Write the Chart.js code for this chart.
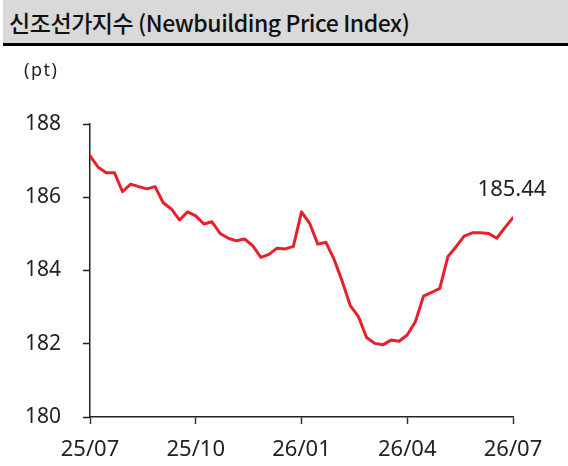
<!DOCTYPE html>
<html><head><meta charset="utf-8">
<script src="https://cdn.jsdelivr.net/npm/chart.js@4"></script>
<style>
html,body{margin:0;padding:0;background:#fff;}
#wrap{position:relative;width:568px;height:466px;overflow:hidden;}
#title{position:absolute;left:3px;top:0;width:565px;height:43px;background:#d9d9d9;border-bottom:3px solid #000;box-sizing:border-box;height:46px;font-family:"Noto Sans CJK KR";font-size:23px;font-weight:500;line-height:45px;padding-left:6px;color:#111;letter-spacing:-0.45px;white-space:nowrap;}
#unit{position:absolute;left:24px;top:57px;font-family:"Noto Sans";font-size:18px;color:#222;letter-spacing:1.5px;}
canvas{position:absolute;left:0;top:0;}
</style></head>
<body>
<div id="wrap">
<canvas id="c" width="568" height="466"></canvas>
<div id="title">신조선가지수 (Newbuilding Price Index)</div>
<div id="unit">(pt)</div>
</div>
<script>
const weeks = [0,1,2,3,4,5,6,7,8,9,10,11,12,13,14,15,16,17,18,19,20,21,22,23,24,25,26,27,28,29,30,31,32,33,34,35,36,37,38,39,40,41,42,43,44,45,46,47,48,49,50,51,52];
const values = [187.13,186.82,186.67,186.67,186.15,186.36,186.29,186.23,186.29,185.85,
185.68,185.38,185.60,185.49,185.27,185.33,185.01,184.88,184.81,184.86,
184.68,184.36,184.44,184.61,184.59,184.66,185.60,185.29,184.72,184.77,
184.31,183.71,183.04,182.74,182.17,182.01,181.97,182.10,182.07,182.24,
182.60,183.30,183.40,183.51,184.38,184.65,184.94,185.03,185.03,185.01,
184.88,185.17,185.44];
const tickLabels = ['25/07','25/10','26/01','26/04','26/07'];
const tickWeeks = [0,13,26,39,52];

const FONT = '"Noto Sans", sans-serif';
const lastLabel = {
  id:'lastLabel',
  afterDatasetsDraw(chart){
    const meta = chart.getDatasetMeta(0);
    const p = meta.data[meta.data.length-1];
    const ctx = chart.ctx;
    ctx.save();
    ctx.font = '22px ' + FONT;
    ctx.fillStyle = '#222';
    ctx.textAlign = 'center';
    ctx.textBaseline = 'alphabetic';
    ctx.fillText(values[values.length-1].toFixed(2), p.x - 1, p.y - 22);
    ctx.restore();
  }
};

new Chart(document.getElementById('c'), {
  type:'line',
  data:{
    datasets:[{
      data: weeks.map((w,i)=>({x:w, y:values[i]})),
      borderColor:'#e8202a',
      borderWidth:3,
      pointRadius:0,
      tension:0,
      borderJoinStyle:'round',
      borderCapStyle:'round'
    }]
  },
  options:{
    responsive:false,
    animation:false,
    layout:{padding:{left:0,right:55,top:124,bottom:0}},
    plugins:{legend:{display:false},tooltip:{enabled:false}},
    scales:{
      x:{
        type:'linear', min:0, max:52,
        afterBuildTicks(scale){ scale.ticks = tickWeeks.map(v=>({value:v})); },
        afterFit(scale){ scale.height = 49; },
        ticks:{
          callback(v){ const k = tickWeeks.indexOf(v); return k>=0 ? tickLabels[k] : ''; },
          font:{family:FONT,size:22}, color:'#222', padding:13, maxRotation:0, autoSkip:false
        },
        grid:{drawOnChartArea:false, drawTicks:true, tickLength:7, tickColor:'#333', tickWidth:1.5},
        border:{display:true, color:'#222', width:1.5}
      },
      y:{
        min:180, max:188,
        afterFit(scale){ scale.width = 90; },
        ticks:{stepSize:2, font:{family:FONT,size:21}, color:'#222', padding:22},
        grid:{drawOnChartArea:false, drawTicks:true, tickLength:7, tickColor:'#222', tickWidth:1.5},
        border:{display:true, color:'#222', width:1.5}
      }
    }
  },
  plugins:[lastLabel]
});
</script>
</body></html>
